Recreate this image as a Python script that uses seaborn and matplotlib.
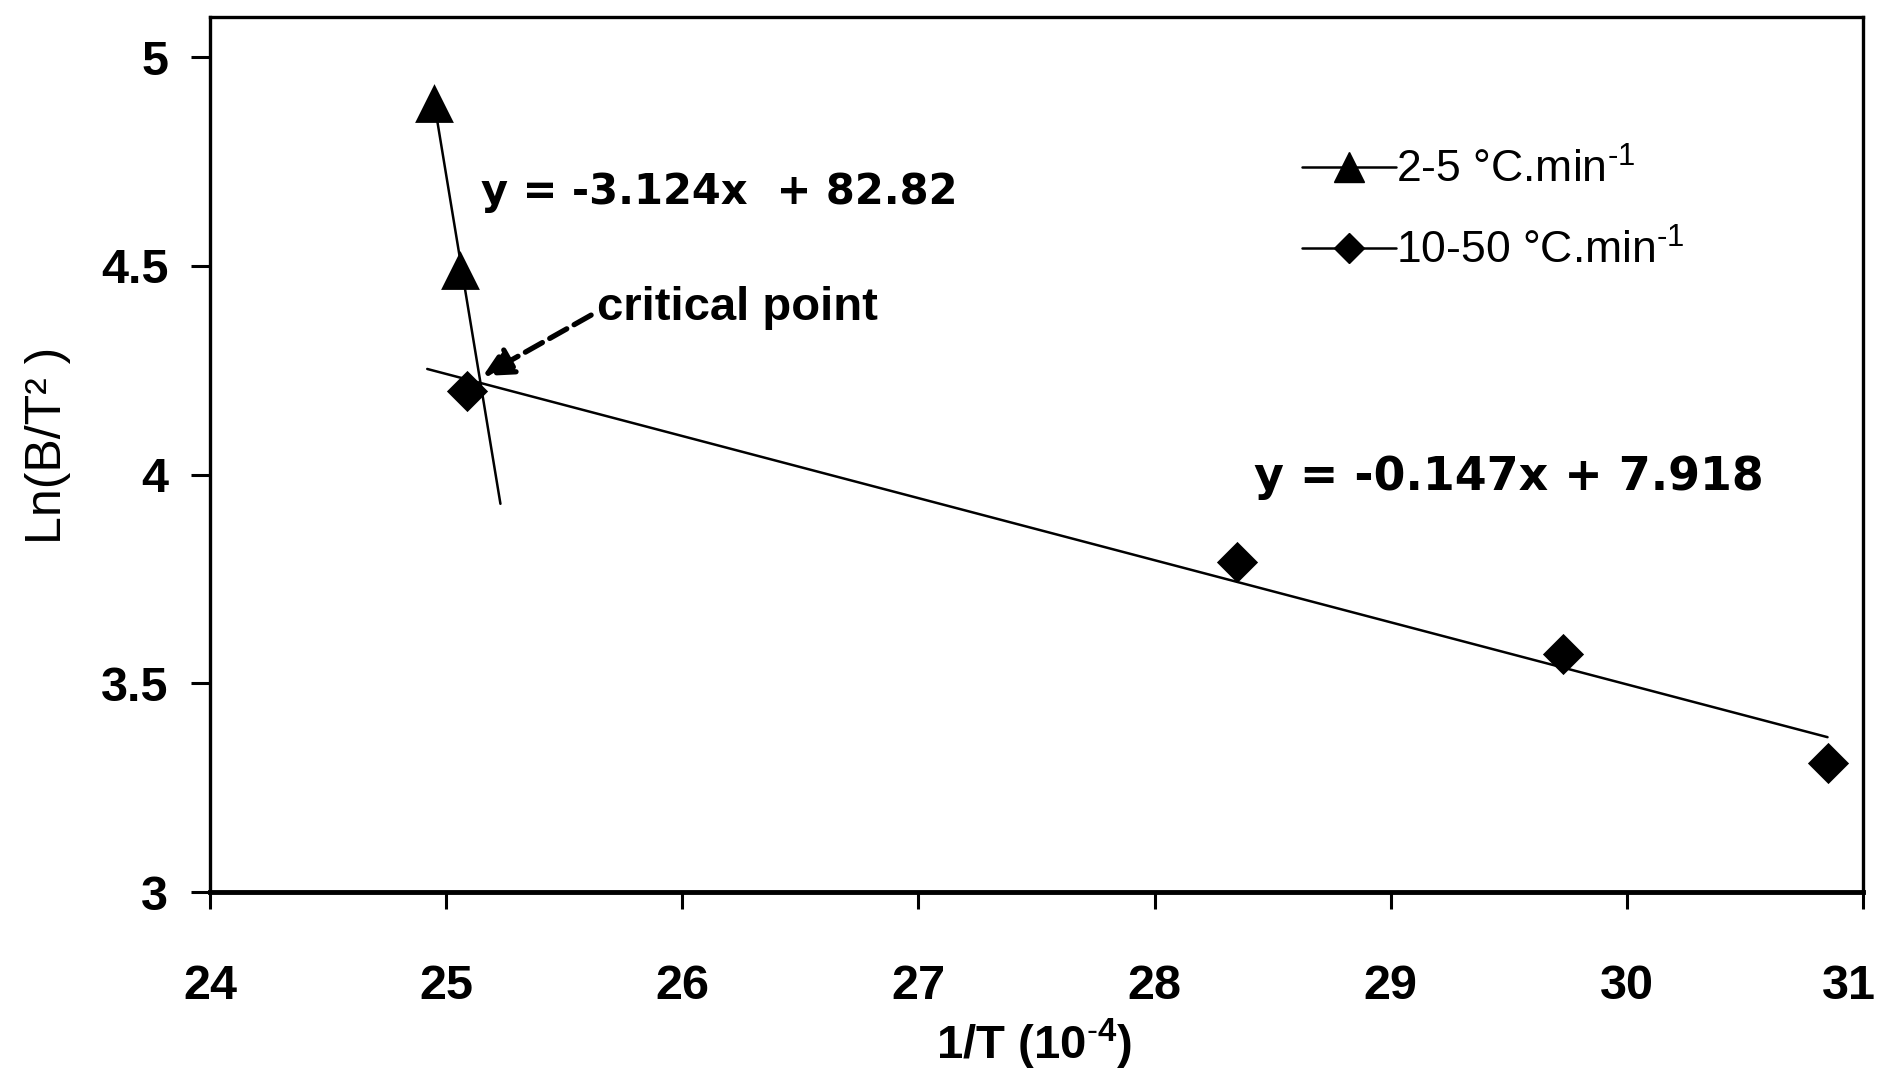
import numpy as np
import pandas as pd
import seaborn as sns
import matplotlib.pyplot as plt
import matplotlib.transforms as mtransforms
from matplotlib.lines import Line2D

# values
tri_x = [24.95, 25.06]
tri_y = [4.89, 4.49]
dia_x = [25.09, 28.35, 29.73, 30.85]
dia_y = [4.20, 3.79, 3.57, 3.31]

# trend line end points as drawn in the picture
tri_fit_x = [24.95, 25.23]
tri_fit_y = [4.89, 3.93]
dia_fit_x = [24.92, 30.85]
dia_fit_y = [4.253, 3.371]

x_ticks = [24, 25, 26, 27, 28, 29, 30, 31]
y_ticks = [3, 3.5, 4, 4.5, 5]
y_tick_labels = ["3", "3.5", "4", "4.5", "5"]

labels = [r"2-5 °C.min$^{\text{-}1}$", r"10-50 °C.min$^{\text{-}1}$"]
eq_tri = "y = -3.124x  + 82.82"
eq_dia = "y = -0.147x + 7.918"

sns.set_style("ticks")
plt.rcParams["font.family"] = ["Liberation Sans", "DejaVu Sans"]
plt.rcParams["mathtext.fontset"] = "custom"
plt.rcParams["mathtext.rm"] = "Liberation Sans"
plt.rcParams["mathtext.bf"] = "Liberation Sans:bold"
plt.rcParams["mathtext.default"] = "regular"
for key in ["text.color", "axes.labelcolor", "xtick.color", "ytick.color", "axes.edgecolor"]:
    plt.rcParams[key] = "black"

df_tri = pd.DataFrame({"x": tri_x, "y": tri_y})
df_dia = pd.DataFrame({"x": dia_x, "y": dia_y})
df_tri_fit = pd.DataFrame({"x": tri_fit_x, "y": tri_fit_y})
df_dia_fit = pd.DataFrame({"x": dia_fit_x, "y": dia_fit_y})

fig = plt.figure(figsize=(18.85, 10.78), dpi=100)
ax = fig.add_axes([0.1114, 0.1725, 0.8769, 0.8117])

# trend lines
sns.lineplot(data=df_tri_fit, x="x", y="y", ax=ax, color="black", lw=1.8, sort=False)
sns.lineplot(data=df_dia_fit, x="x", y="y", ax=ax, color="black", lw=1.8, sort=False)

# points
sns.scatterplot(data=df_tri, x="x", y="y", ax=ax, marker="^", s=780, color="black",
                edgecolor="black", linewidth=0, zorder=5)
sns.scatterplot(data=df_dia, x="x", y="y", ax=ax, marker="D", s=440, color="black",
                edgecolor="black", linewidth=0, zorder=5)

ax.set_xlim(24, 31)
ax.set_ylim(3, 5.096)
ax.set_xticks(x_ticks)
ax.set_yticks(y_ticks)
ax.set_yticklabels(y_tick_labels)

ax.tick_params(axis="y", direction="out", length=14, width=2.2, pad=16)
ax.tick_params(axis="x", direction="out", length=12, width=2.2, pad=40)

for lbl in ax.get_xticklabels() + ax.get_yticklabels():
    lbl.set_fontweight("bold")
    lbl.set_fontsize(35)

# last x label sits a little left so it stays inside the figure
last = ax.xaxis.get_major_ticks()[-1].label1
last.set_transform(last.get_transform() + mtransforms.ScaledTranslation(-14 / 100, 0, fig.dpi_scale_trans))

for side in ["top", "right", "left"]:
    ax.spines[side].set_linewidth(2.4)
ax.spines["bottom"].set_linewidth(3.5)

ax.set_xlabel(r"1/T (10$^{\mathbf{\text{-}4}}$)", fontsize=34, fontweight="bold")
ax.xaxis.set_label_coords(0.4985, -0.143)
ax.set_ylabel("Ln(B/T² )", fontsize=36)
ax.yaxis.set_label_coords(-0.084, 0.511)

# equations and annotation
ax.text(25.148, 4.677, eq_tri, fontsize=30, fontweight="bold", family="DejaVu Sans",
        ha="left", va="center")
ax.text(28.42, 3.992, eq_dia, fontsize=33, fontweight="bold", family="DejaVu Sans",
        ha="left", va="center")
ax.text(25.64, 4.40, "critical point", fontsize=34, fontweight="bold", ha="left", va="center")
ax.annotate("", xy=(25.156, 4.236), xytext=(25.614, 4.382),
            arrowprops=dict(arrowstyle="-|>", linestyle="--", lw=3.8,
                            color="black", mutation_scale=45, shrinkA=0, shrinkB=0))

handles = [
    Line2D([0], [0], color="black", lw=1.8, marker="^", markersize=21),
    Line2D([0], [0], color="black", lw=1.8, marker="D", markersize=15),
]
ax.legend(handles, labels, loc="upper left", bbox_to_anchor=(0.65, 0.87),
          frameon=False, fontsize=32, handlelength=2.1, handletextpad=0.0,
          labelspacing=0.85, borderaxespad=0)

fig.savefig("out.png", dpi=100)
